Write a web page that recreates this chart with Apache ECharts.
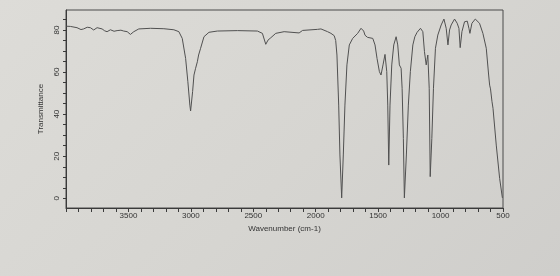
<!DOCTYPE html>
<html>
<head>
<meta charset="utf-8">
<script src="https://cdn.jsdelivr.net/npm/echarts@6/dist/echarts.min.js"></script>
<style>
html,body{margin:0;padding:0;}
body{width:560px;height:276px;background:linear-gradient(135deg,#dddcd8 0%,#d6d5d1 55%,#cfcecb 100%);}
#c{width:560px;height:276px;}
</style>
</head>
<body>
<div id="c"></div>
<script>
// Wavenumber (cm-1)
const wavenumbers = [4000,3965,3912,3880,3859,3830,3805,3778,3751,3711,3690,3671,3644,3615,3591,3560,3538,3510,3484,3457,3417,3323,3216,3136,3096,3069,3042,3024,3008,3002,2986,2975,2962,2948,2938,2922,2895,2855,2788,2627,2467,2427,2400,2382,2360,2320,2253,2133,2105,1985,1958,1905,1878,1852,1840,1830,1816,1806,1792,1779,1766,1750,1731,1704,1664,1637,1616,1605,1597,1585,1571,1543,1525,1509,1490,1477,1461,1445,1431,1423,1415,1405,1391,1375,1356,1343,1330,1316,1308,1298,1290,1274,1258,1242,1222,1206,1188,1161,1142,1129,1115,1108,1102,1091,1083,1070,1057,1041,1022,995,973,955,941,928,915,888,867,853,843,829,808,786,773,765,749,722,688,661,634,615,607,600,588,580,554,527,505];
// Transmittance (%)
const transmittance = [81.8,81.7,81.1,80.2,80.5,81.3,81.1,80.0,81.1,80.5,79.6,79.2,80.1,79.4,79.7,79.9,79.5,79.2,77.9,79.2,80.5,80.8,80.6,80.1,79.2,76.0,66.5,55.4,44.3,41.5,50.7,58.6,61.8,64.9,68.1,71.3,76.8,78.9,79.5,79.7,79.5,78.4,73.2,75.2,76.3,78.4,79.2,78.6,79.8,80.3,80.5,79.2,78.4,77.3,75.0,68.1,44.3,20.6,0.2,20.6,44.3,63.4,72.9,76.0,78.4,80.8,79.5,77.5,78.2,76.5,76.8,76.0,72.9,66.5,60.2,58.6,63.4,68.4,60.2,44.3,15.8,44.3,63.4,72.9,76.8,72.9,63.4,61.8,52.3,28.5,0.2,20.6,44.3,60.2,72.9,76.8,78.9,80.8,79.2,69.7,63.4,66.0,68.1,52.3,10.3,28.5,52.3,71.3,77.6,82.4,85.2,80.8,72.9,80.0,82.4,85.2,83.2,80.8,71.6,79.2,83.9,84.2,80.8,78.4,83.2,85.2,83.2,78.4,71.3,58.6,53.8,52.0,45.9,42.8,25.3,9.5,0.2];
const yTickLabels = [0,20,40,60,80];
const yTicks = [0,5,10,15,20,25,30,35,40,45,50,55,60,65,70,75,80,85];

const chart = echarts.init(document.getElementById('c'), null, {renderer:'canvas'});
const txt = '#333333';
chart.setOption({
  backgroundColor: 'transparent',
  animation: false,
  grid: {left: 66, right: 57, top: 10, bottom: 68, show: true, borderColor: '#4a4a4a', borderWidth: 1, backgroundColor: 'transparent'},
  xAxis: {
    type: 'value', min: 500, max: 4000, interval: 500, inverse: true,
    name: 'Wavenumber (cm-1)', nameLocation: 'middle', nameGap: 13,
    nameTextStyle: {fontFamily: 'Liberation Sans', fontSize: 8, color: txt},
    axisLine: {show: true, onZero: false, lineStyle: {color: '#3a3a3a', width: 1}},
    axisTick: {show: true, inside: false, length: 4, lineStyle: {color: '#3a3a3a'}},
    minorTick: {show: true, splitNumber: 5, length: 4, lineStyle: {color: '#3a3a3a'}},
    axisLabel: {showMaxLabel: false, margin: 4, fontFamily: 'Liberation Sans', fontSize: 8, color: txt, formatter: v => String(v)},
    splitLine: {show: false}
  },
  yAxis: {
    type: 'value', min: -4.6, max: 89.5,
    name: 'Transmittance', nameLocation: 'middle', nameGap: 12, nameRotate: 90,
    nameTextStyle: {fontFamily: 'Liberation Sans', fontSize: 8, color: txt},
    axisLine: {show: true, onZero: false, lineStyle: {color: '#3a3a3a', width: 1}},
    axisTick: {show: true, inside: false, length: 3, customValues: yTicks, lineStyle: {color: '#3a3a3a'}},
    axisLabel: {rotate: 90, margin: 5, customValues: yTickLabels, fontFamily: 'Liberation Sans', fontSize: 8, color: txt, formatter: v => String(v)},
    splitLine: {show: false}
  },
  series: [{
    type: 'line',
    data: wavenumbers.map((w, i) => [w, transmittance[i]]),
    showSymbol: false, smooth: false,
    lineStyle: {color: '#505050', width: 1}
  }]
});
</script>
</body>
</html>
